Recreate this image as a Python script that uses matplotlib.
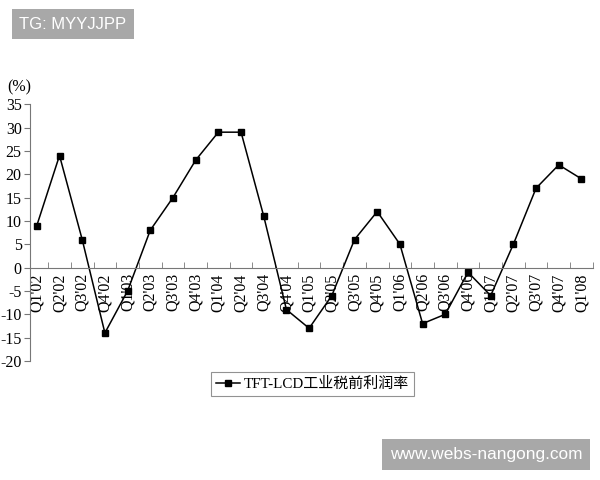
import matplotlib
matplotlib.use("Agg")
import matplotlib.pyplot as plt
import numpy as np

# quarterly pre-tax profit margin of TFT-LCD industry (%)
quarters = ["Q1'02", "Q2'02", "Q3'02", "Q4'02", "Q1'03", "Q2'03", "Q3'03", "Q4'03",
            "Q1'04", "Q2'04", "Q3'04", "Q4'04", "Q1'05", "Q2'05", "Q3'05", "Q4'05",
            "Q1'06", "Q2'06", "Q3'06", "Q4'06", "Q1'07", "Q2'07", "Q3'07", "Q4'07",
            "Q1'08"]
margin = [9, 24, 6, -14, -5, 8, 15, 23,
          29, 29, 11, -9, -13, -6, 6, 12,
          5, -12, -10, -1, -6, 5, 17, 22,
          19]
yticks = [35, 30, 25, 20, 15, 10, 5, 0, -5, -10, -15, -20]
series_name = "TFT-LCD工业税前利润率"

serif = ["Liberation Serif", "Noto Sans CJK SC"]
axis_grey = "#777777"

fig = plt.figure(figsize=(6, 4.8), dpi=100)
ax = fig.add_axes([0.05, 0.248, 0.938, 0.535])

x = np.arange(len(quarters))
ax.plot(x, margin, color="black", lw=1.1, marker="s", ms=5, label=series_name)

ax.set_xlim(-0.3, len(quarters) - 0.5)
ax.set_ylim(-20, 35)

for s in ["top", "right"]:
    ax.spines[s].set_visible(False)
ax.spines["bottom"].set_position(("data", 0))
ax.spines["bottom"].set_color(axis_grey)
ax.spines["left"].set_color(axis_grey)

ax.set_yticks(yticks)
ax.set_yticklabels([str(v) for v in yticks], fontfamily=serif, fontsize=11.5)
ax.tick_params(axis="y", direction="out", length=4, color=axis_grey, pad=2)

ax.set_xticks(x)
ax.set_xticklabels(quarters, rotation=90, fontfamily=serif, fontsize=11.5, va="top")
ax.set_xticks(np.arange(0.5, len(quarters), 1), minor=True)
ax.tick_params(axis="x", which="major", length=0, pad=4)
ax.tick_params(axis="x", which="minor", direction="in", length=4, color=axis_grey)

fig.text(0.012, 0.817, "(%)", fontfamily=serif, fontsize=11.5, ha="left", va="center")

leg = fig.legend(loc="center", bbox_to_anchor=(0.521, 0.2), frameon=True,
                 fancybox=False, edgecolor=axis_grey, handlelength=1.6,
                 borderpad=0.3, handletextpad=0.3, prop={"family": serif, "size": 10.8})
leg.get_frame().set_linewidth(0.8)

box = dict(boxstyle="square,pad=0.45", facecolor="#a8a8a8", edgecolor="none")
fig.text(0.032, 0.949, "TG: MYYJJPP", color="white", fontsize=12,
         fontfamily="Liberation Sans", ha="left", va="center", bbox=box)
fig.text(0.65, 0.053, "www.webs-nangong.com", color="white", fontsize=12.4,
         fontfamily="Liberation Sans", ha="left", va="center", bbox=box)

fig.savefig("out.png", dpi=100)
